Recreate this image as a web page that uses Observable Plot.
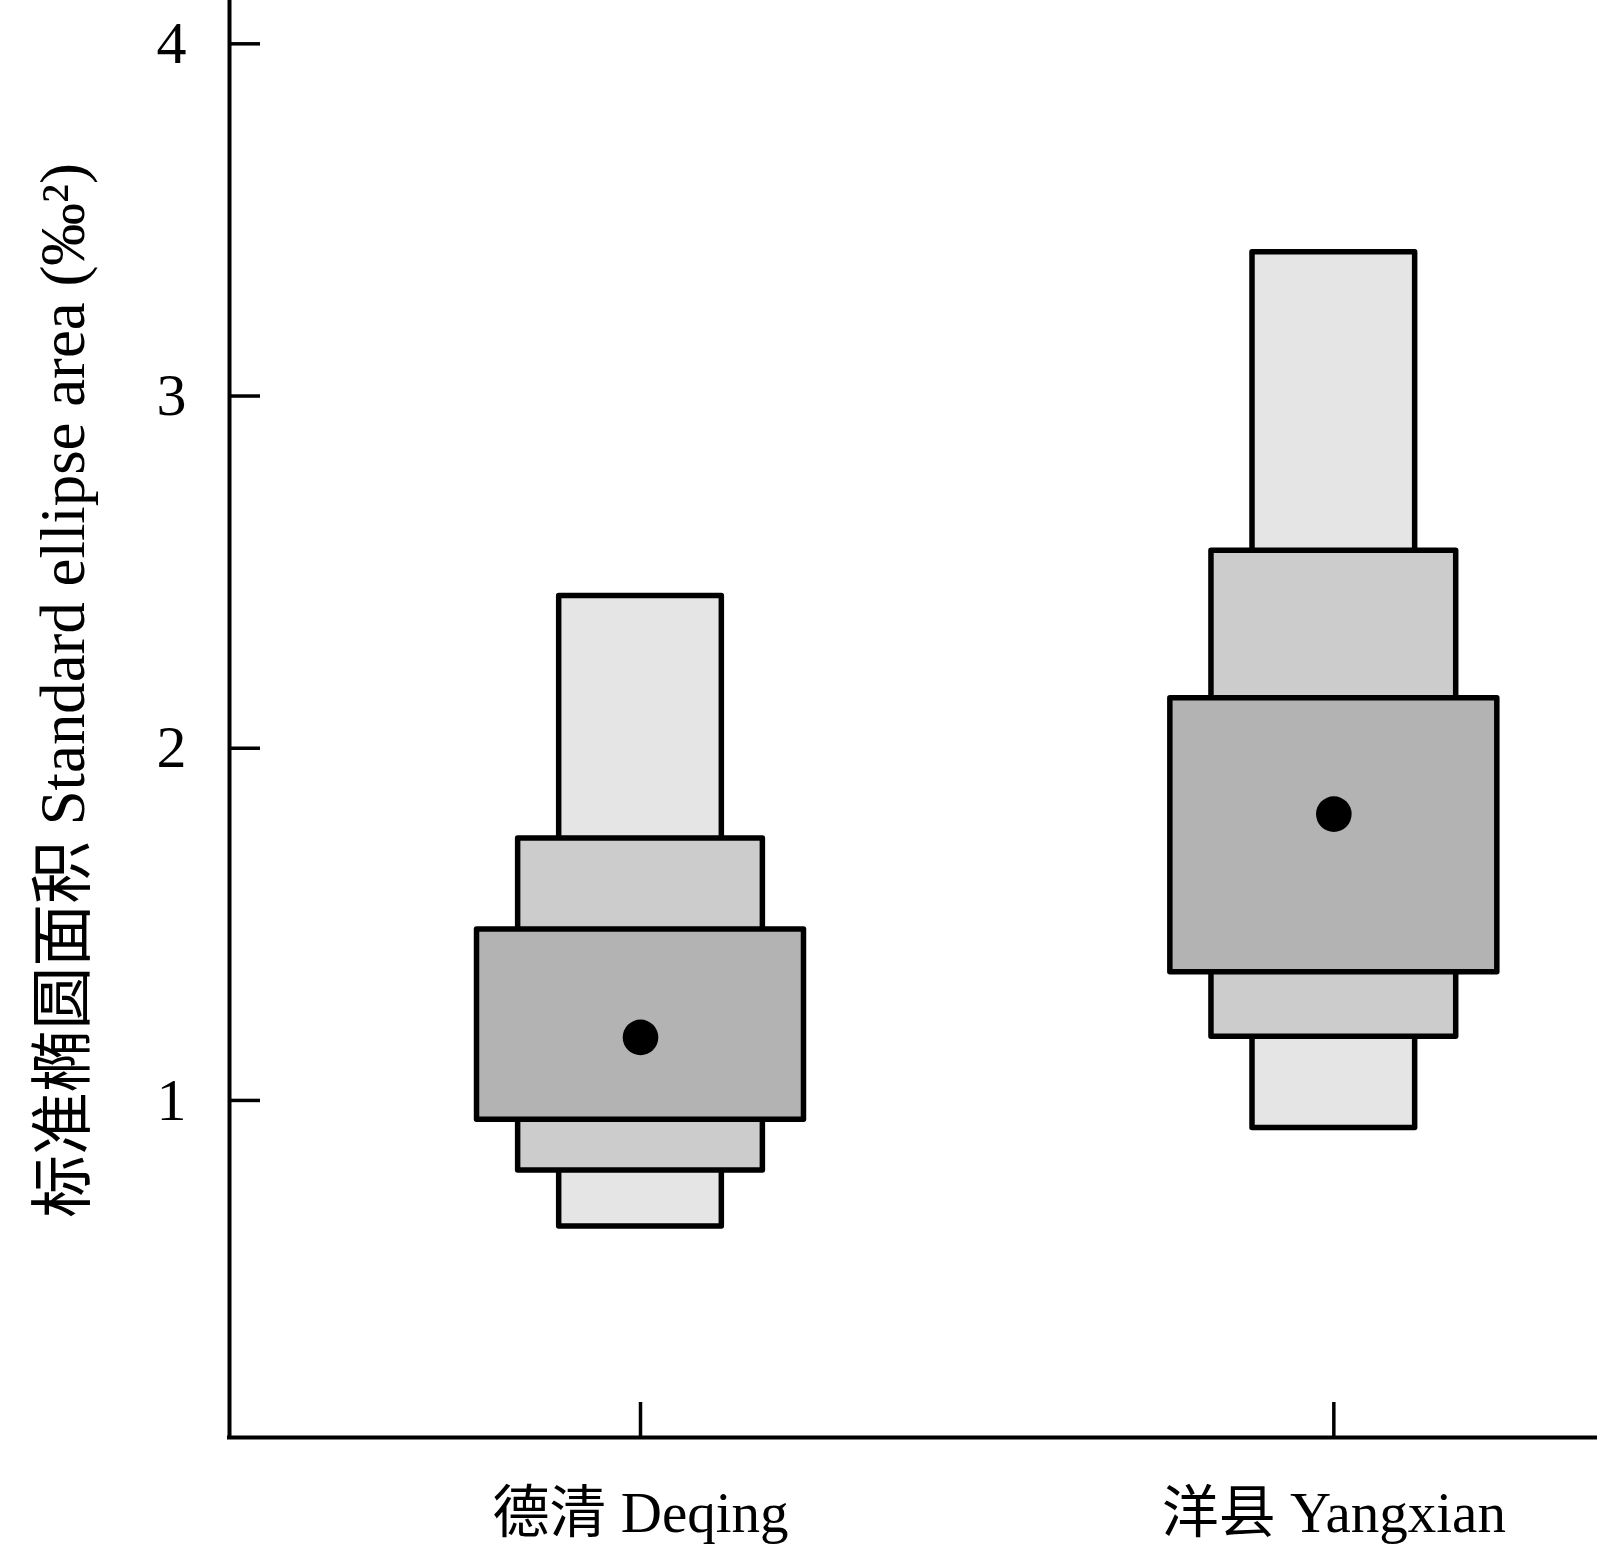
<!DOCTYPE html>
<html>
<head>
<meta charset="utf-8">
<script src="https://cdn.jsdelivr.net/npm/d3@7"></script>
<script src="https://cdn.jsdelivr.net/npm/@observablehq/plot@0.6"></script>
<style>
  html, body { margin: 0; padding: 0; background: #fff; }
</style>
</head>
<body>
<div id="chart"></div>
<script>
// ---- data ----
const sites = ["德清 Deqing", "洋县 Yangxian"];
const levels = ["95%", "75%", "50%"];
const lower95 = [0.642, 0.922];
const upper95 = [2.432, 3.408];
const lower75 = [0.801, 1.181];
const upper75 = [1.744, 2.561];
const lower50 = [0.945, 1.364];
const upper50 = [1.485, 2.142];
const modes = [1.179, 1.813];
const yTicks = [1, 2, 3, 4];
const yTitle = "标准椭圆面积 Standard ellipse area (‰²)";

// ---- tables built from the arrays ----
const bounds = {"95%": [lower95, upper95], "75%": [lower75, upper75], "50%": [lower50, upper50]};
const positions = sites.map((s, i) => i + 1);
const boxesFor = level => sites.map((site, i) => ({site, pos: positions[i], level, lo: bounds[level][0][i], hi: bounds[level][1][i]}));
const points = sites.map((site, i) => ({site, pos: positions[i], mode: modes[i]}));

// ---- styling ----
const halfWidth = {"95%": 0.1173, "75%": 0.1765, "50%": 0.2358};
const fills = {"95%": "#e5e5e5", "75%": "#cccccc", "50%": "#b3b3b3"};
const W = 1597, H = 1550, ML = 229, MB = 113;
const xDomain = [0.4072, 2.3803];
const yDomain = [0.043, 4.123];
const font = '"Liberation Serif", "Times New Roman", "Noto Sans CJK SC", serif';

const boxMark = level => Plot.rect(boxesFor(level), {
  x1: d => d.pos - halfWidth[d.level],
  x2: d => d.pos + halfWidth[d.level],
  y1: "lo", y2: "hi",
  fill: fills[level], stroke: "#000", strokeWidth: 5.5, strokeLinejoin: "round"
});

const chart = Plot.plot({
  width: W, height: H,
  marginLeft: ML, marginRight: 0, marginTop: 0, marginBottom: MB,
  style: {background: "#fff", fontFamily: font, color: "#000", overflow: "visible"},
  x: {type: "linear", domain: xDomain},
  y: {type: "linear", domain: yDomain},
  marks: [
    ...levels.map(boxMark),
    Plot.dot(points, {x: "pos", y: "mode", r: 17.8, fill: "#000", stroke: "none"}),
    // axis lines
    Plot.ruleX([xDomain[0]], {stroke: "#000", strokeWidth: 4, strokeLinecap: "square"}),
    Plot.ruleY([yDomain[0]], {stroke: "#000", strokeWidth: 4, strokeLinecap: "square"}),
    // inward tick marks
    Plot.ruleY(yTicks, {stroke: "#000", strokeWidth: 3.5, insetRight: (W - ML) - 31}),
    Plot.ruleX(positions, {stroke: "#000", strokeWidth: 3.5, insetTop: (H - MB) - 35}),
    // tick labels
    Plot.axisY(yTicks, {tickSize: 0, tickPadding: 43, fontSize: 60, fontFamily: font, label: null, fill: "#000",
      tickFormat: d => String(d)}),
    Plot.axisX(positions, {tickSize: 0, tickPadding: 54, fontSize: 57, fontFamily: font, label: null, fill: "#000",
      tickFormat: d => sites[d - 1]}),
    // y title
    Plot.text([yTitle], {text: d => d, frameAnchor: "left", rotate: -90, dx: -166, dy: -28.5,
      fontSize: 62.8, fontFamily: font, lineAnchor: "middle", textAnchor: "middle", fill: "#000"})
  ]
});
document.getElementById("chart").appendChild(chart);
</script>
</body>
</html>
